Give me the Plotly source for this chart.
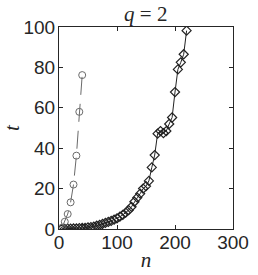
import plotly.graph_objects as go

# Gray dashed series (circles)
n_gray = [5, 10, 15, 20, 25, 30, 35, 40]
t_gray = [0.6, 3.6, 7.4, 13.2, 22.0, 36.3, 58.0, 76.2]

# Black solid series (diamonds)
n_black = [5, 10, 15, 20, 25, 30, 35, 40, 45, 50, 55, 60, 65, 70, 75, 80, 85, 90,
           95, 100, 105, 110, 115, 120, 125, 130, 135, 140, 145, 150, 155, 160,
           165, 170, 175, 180, 185, 190, 195, 200, 205, 210, 215, 220]
t_black = [0.1, 0.1, 0.2, 0.2, 0.3, 0.3, 0.4, 0.5, 0.6, 0.8, 0.9, 1.2, 1.6, 2.0,
           2.5, 3.0, 3.5, 4.0, 4.6, 5.3, 6.1, 7.0, 8.1, 9.3, 11.0, 13.5, 15.5,
           17.5, 20.0, 21.2, 23.8, 30.5, 36.6, 47.2, 48.5, 47.5, 48.5, 52.0,
           55.2, 67.8, 79.0, 82.5, 86.5, 98.2]

x_ticks = [0, 100, 200, 300]
y_ticks = [0, 20, 40, 60, 80, 100]

fig = go.Figure()
fig.add_trace(go.Scatter(
    x=n_black, y=t_black, mode="lines+markers",
    line=dict(color="#222222", width=1),
    marker=dict(symbol="diamond-open", size=7, color="#222222", line=dict(width=1.2)),
    showlegend=False))
fig.add_trace(go.Scatter(
    x=n_gray, y=t_gray, mode="lines+markers",
    line=dict(color="#6a6a6a", width=1, dash="18px,9px"),
    marker=dict(symbol="circle-open", size=7, color="#6a6a6a", line=dict(width=1)),
    showlegend=False))

axis_common = dict(
    showline=True, linecolor="#262626", linewidth=1, mirror="allticks",
    ticks="inside", ticklen=4, tickcolor="#262626", showgrid=False, zeroline=False,
    automargin=False,
    tickfont=dict(family="Liberation Sans, Arial", size=19, color="#262626"),
)

fig.update_layout(
    width=258, height=275,
    margin=dict(l=59, r=25, t=27, b=46),
    paper_bgcolor="white", plot_bgcolor="white",
    title=dict(text="<i>q</i> = 2", x=0.565, xanchor="center", y=0.952, yanchor="middle",
               automargin=False,
               font=dict(family="Liberation Serif, DejaVu Serif", size=21, color="#262626")),
    xaxis=dict(range=[0, 300], tickvals=x_ticks, ticktext=[str(v) for v in x_ticks],
               ticklabelstandoff=-4,
               title=dict(text="<i>n</i>", standoff=0,
                          font=dict(family="Liberation Serif, DejaVu Serif", size=21, color="#262626")),
               **axis_common),
    yaxis=dict(range=[0, 100], tickvals=y_ticks, ticktext=[str(v) for v in y_ticks],
               ticklabelstandoff=-1,
               title=dict(text="<i>t</i>", standoff=6,
                          font=dict(family="Liberation Serif, DejaVu Serif", size=21, color="#262626")),
               **axis_common),
)

fig.write_html("out.html", config={"displayModeBar": False},
               post_script="document.body.style.margin='0';document.body.style.overflow='hidden';")
